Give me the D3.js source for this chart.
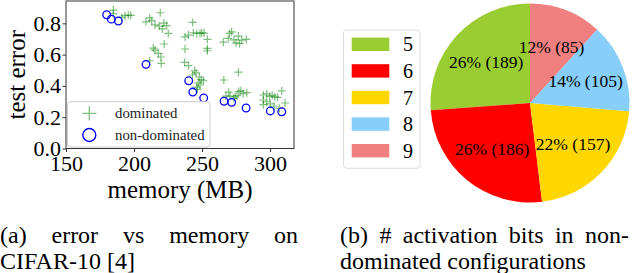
<!DOCTYPE html>
<html>
<head>
    <meta charset="UTF-8">
    <script src="https://d3js.org/d3.v7.min.js"></script>
</head>
<body style="margin:0">
    <svg id="chart" width="640" height="273"></svg>

    <script>
        // (a) scatter data: [memory MB, test error]
        const dominated = [
            [184.8, 0.885], [184.8, 0.862], [190.9, 0.838], [193.4, 0.849], [195.8, 0.853], [197.6, 0.851],
            [208.8, 0.81], [211.5, 0.835], [213, 0.817], [219.3, 0.868], [215.4, 0.79], [218.6, 0.783],
            [222, 0.802], [224, 0.786], [220.8, 0.765], [225.2, 0.736], [222.2, 0.668],
            [214.2, 0.642], [215.4, 0.629], [217.9, 0.608], [219.8, 0.585], [211.5, 0.561], [220, 0.544],
            [243.1, 0.806], [237.5, 0.714], [240, 0.725], [243.6, 0.74], [246.1, 0.736], [248.5, 0.736],
            [249.8, 0.74], [251.5, 0.738], [253.9, 0.698], [237.5, 0.636], [253.9, 0.64], [253.9, 0.625],
            [265.7, 0.68], [270.3, 0.736], [271.8, 0.746], [269.3, 0.704], [273.5, 0.695], [276.7, 0.719],
            [275, 0.676], [277.6, 0.67], [279.2, 0.693], [282.6, 0.698],
            [237.2, 0.55], [240, 0.53], [244.5, 0.497], [245.6, 0.484], [243, 0.47], [248, 0.457],
            [249.4, 0.44], [251, 0.433], [247.3, 0.42], [248.5, 0.406], [246.1, 0.392], [246.5, 0.378],
            [266, 0.438], [276.7, 0.488], [269.6, 0.36], [267.6, 0.335], [270.6, 0.335], [273.3, 0.321],
            [275.7, 0.338], [277, 0.364], [278.5, 0.369], [280.2, 0.35], [282.9, 0.357], [274.3, 0.33],
            [295.1, 0.342], [297.6, 0.35], [299.8, 0.333], [301.6, 0.34], [303.5, 0.33], [305.5, 0.327],
            [308.6, 0.368], [295, 0.31], [297.6, 0.299], [295.1, 0.28], [300, 0.285], [306.8, 0.257],
            [311, 0.291], [303, 0.27]
        ];
        const nonDominated = [
            [179.9, 0.855], [183.3, 0.827], [188.5, 0.815], [208.8, 0.538], [240.2, 0.433], [243.2, 0.361],
            [251.2, 0.323], [266.2, 0.302], [271.8, 0.295], [282.4, 0.259], [300.2, 0.24], [308.6, 0.235]
        ];
        const xTicks = [150, 200, 250, 300];
        const yTicks = [0, 0.2, 0.4, 0.6, 0.8];

        // (b) pie data
        const bits = ["5", "6", "7", "8", "9"];
        const bitCounts = [189, 186, 157, 105, 85];
        const bitPercents = ["26%", "26%", "22%", "14%", "12%"];
        const bitColors = ["yellowgreen", "red", "gold", "lightskyblue", "lightcoral"];

        const FONT = "Liberation Serif";
        const svg = d3.select("#chart");

        // ---------- scatter ----------
        const frame = { left: 66, right: 294, top: 1, bottom: 148.5 };
        const x = d3.scaleLinear().domain([150, 317.6]).range([frame.left, frame.right]);
        const y = d3.scaleLinear().domain([0, 0.943]).range([frame.bottom, frame.top]);

        const plot = svg.append("g");

        // axes
        const xAxis = plot.append("g")
            .attr("transform", `translate(0,${frame.bottom})`)
            .call(d3.axisBottom(x).tickValues(xTicks).tickSize(3.5).tickFormat(d3.format("d")));
        xAxis.selectAll("text").attr("dy", null).attr("y", 22.5);

        const yAxis = plot.append("g")
            .attr("transform", `translate(${frame.left},0)`)
            .call(d3.axisLeft(y).tickValues(yTicks).tickSize(3.5).tickPadding(1.5).tickFormat(d3.format(".1f")));

        plot.selectAll(".domain").remove();
        plot.selectAll(".tick line").attr("stroke", "#333");
        plot.selectAll(".tick text")
            .attr("fill", "#000")
            .style("font-family", FONT)
            .style("font-size", "22px");

        // points
        plot.selectAll(".dom")
            .data(dominated)
            .enter()
            .append("path")
            .attr("class", "dom")
            .attr("transform", d => `translate(${x(d[0])},${y(d[1])})`)
            .attr("d", "M-4,0H4M0,-4V4")
            .attr("stroke", "green")
            .attr("stroke-opacity", 0.5)
            .attr("stroke-width", 1.2)
            .attr("fill", "none");

        plot.selectAll(".nondom")
            .data(nonDominated)
            .enter()
            .append("circle")
            .attr("class", "nondom")
            .attr("cx", d => x(d[0]))
            .attr("cy", d => y(d[1]))
            .attr("r", 3.8)
            .attr("fill", "none")
            .attr("stroke", "blue")
            .attr("stroke-width", 1.3);

        // frame
        plot.append("rect")
            .attr("x", frame.left)
            .attr("y", frame.top)
            .attr("width", frame.right - frame.left)
            .attr("height", frame.bottom - frame.top)
            .attr("fill", "none")
            .attr("stroke", "#333")
            .attr("stroke-width", 1);

        // legend
        const leg = plot.append("g");
        leg.append("rect")
            .attr("x", 67.5).attr("y", 101.7)
            .attr("width", 142.5).attr("height", 45.3)
            .attr("rx", 3)
            .attr("fill", "rgba(255,255,255,0.8)")
            .attr("stroke", "#ccc");
        leg.append("path")
            .attr("transform", "translate(89.3,113.3)")
            .attr("d", "M-7,0H7M0,-7V7")
            .attr("stroke", "green").attr("stroke-opacity", 0.5)
            .attr("stroke-width", 1.3).attr("fill", "none");
        leg.append("circle")
            .attr("cx", 89.3).attr("cy", 135).attr("r", 6.5)
            .attr("fill", "none").attr("stroke", "blue").attr("stroke-width", 1.4);
        leg.selectAll(".lt")
            .data(["dominated", "non-dominated"])
            .enter()
            .append("text")
            .attr("x", 115)
            .attr("y", (d, i) => 113.3 + i * 21.7)
            .attr("dy", "0.33em")
            .style("font-family", FONT)
            .style("font-size", "14.8px")
            .attr("fill", "#222")
            .text(d => d);

        // axis labels
        plot.append("text")
            .attr("x", (frame.left + frame.right) / 2)
            .attr("y", 198)
            .attr("text-anchor", "middle")
            .style("font-family", FONT)
            .style("font-size", "25px")
            .text("memory (MB)");
        plot.append("text")
            .attr("transform", `translate(25,${(frame.top + frame.bottom) / 2}) rotate(-90)`)
            .attr("text-anchor", "middle")
            .style("font-family", FONT)
            .style("font-size", "25px")
            .text("test error");

        // ---------- pie ----------
        const cx = 530, cy = 103, radius = 99.5;
        const pie = d3.pie().sort(null).startAngle(0).endAngle(-2 * Math.PI);
        const arcs = pie(bitCounts);
        const arc = d3.arc().innerRadius(0).outerRadius(radius);
        const labelArc = d3.arc().innerRadius(radius * 0.6).outerRadius(radius * 0.6);

        const pg = svg.append("g").attr("transform", `translate(${cx},${cy})`);
        pg.selectAll("path")
            .data(arcs)
            .enter()
            .append("path")
            .attr("d", arc)
            .attr("fill", (d, i) => bitColors[i]);
        pg.selectAll("text")
            .data(arcs)
            .enter()
            .append("text")
            .attr("transform", d => `translate(${labelArc.centroid(d)})`)
            .attr("text-anchor", "middle")
            .attr("dy", "0.33em")
            .style("font-family", FONT)
            .style("font-size", "17.5px")
            .text((d, i) => `${bitPercents[i]} (${bitCounts[i]})`);

        // pie legend
        const pl = svg.append("g");
        pl.append("rect")
            .attr("x", 343.5).attr("y", 30)
            .attr("width", 76.5).attr("height", 138.3)
            .attr("rx", 3)
            .attr("fill", "#fff")
            .attr("stroke", "#ddd");
        const rowY = d3.scaleLinear().domain([0, 4]).range([44.3, 150.7]);
        pl.selectAll(".sw")
            .data(bits)
            .enter()
            .append("rect")
            .attr("x", 351.7)
            .attr("y", (d, i) => rowY(i) - 6.7)
            .attr("width", 37.6)
            .attr("height", 13.4)
            .attr("fill", (d, i) => bitColors[i]);
        pl.selectAll(".bl")
            .data(bits)
            .enter()
            .append("text")
            .attr("x", 408)
            .attr("y", (d, i) => rowY(i))
            .attr("dy", "0.35em")
            .attr("text-anchor", "middle")
            .style("font-family", FONT)
            .style("font-size", "20px")
            .text(d => d);

        // ---------- captions ----------
        function justifyLine(words, x0, x1, yy) {
            const nodes = words.map(w => svg.append("text")
                .attr("y", yy)
                .style("font-family", FONT)
                .style("font-size", "24px")
                .text(w));
            const widths = nodes.map(n => n.node().getComputedTextLength());
            const gap = (x1 - x0 - d3.sum(widths)) / (words.length - 1);
            let cur = x0;
            nodes.forEach((n, i) => {
                n.attr("x", cur);
                cur += widths[i] + gap;
            });
        }
        function plainLine(str, x0, yy) {
            svg.append("text")
                .attr("x", x0)
                .attr("y", yy)
                .style("font-family", FONT)
                .style("font-size", "24px")
                .text(str);
        }

        justifyLine(["(a)", "error", "vs", "memory", "on"], 0, 298, 243);
        plainLine("CIFAR-10 [4]", 0, 269);
        justifyLine(["(b)", "#", "activation", "bits", "in", "non-"], 340, 629, 243);
        plainLine("dominated configurations", 340, 269);
    </script>
</body>
</html>
